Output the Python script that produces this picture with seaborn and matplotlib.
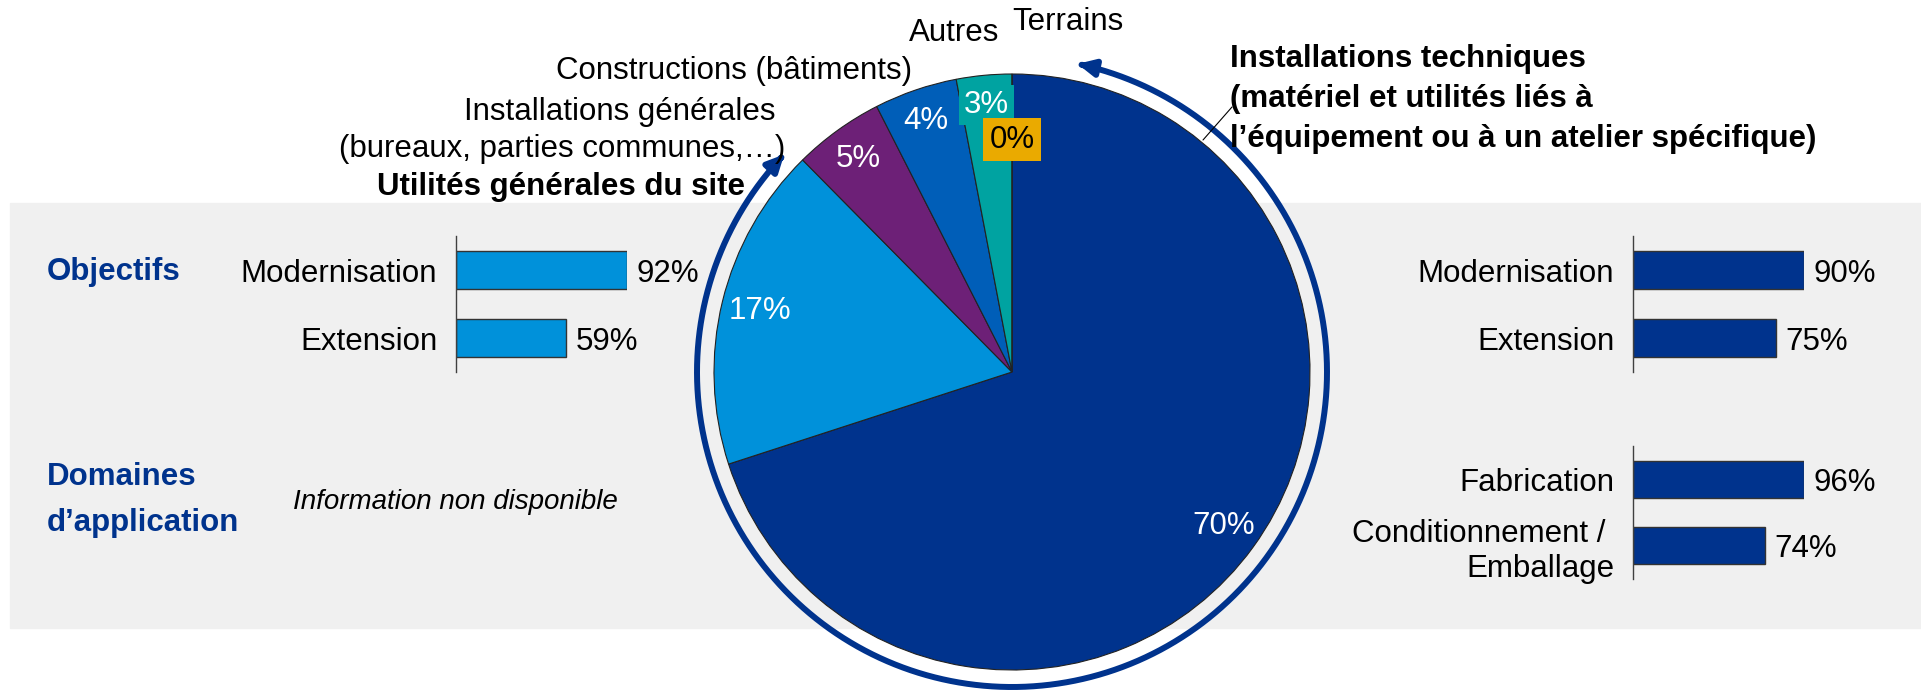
import matplotlib.pyplot as plt
import numpy as np
import seaborn as sns
from matplotlib.lines import Line2D
from matplotlib.patches import FancyArrowPatch, Rectangle
from matplotlib.path import Path

# pie: share of spend by asset type (clockwise from 12 o'clock)
pie_labels = ['Installations techniques', 'Utilités générales du site', 'Installations générales',
              'Constructions (bâtiments)', 'Autres', 'Terrains']
pie_values = [70.0, 17.6, 4.9, 4.5, 3.0, 0.0]
pie_pct_text = ['70%', '17%', '5%', '4%', '3%', '0%']

# bars
obj_left_cats = ['Modernisation', 'Extension']
obj_left_vals = [92, 59]
obj_right_cats = ['Modernisation', 'Extension']
obj_right_vals = [90, 75]
dom_right_cats = ['Fabrication', 'Conditionnement / \nEmballage']
dom_right_vals = [96, 74]

DARK = '#00338D'
MID = '#005EB8'
LIGHT = '#0091DA'
PURPLE = '#6D2077'
TEAL = '#00A3A1'
ORANGE = '#EAAA00'
pie_colors = [DARK, LIGHT, PURPLE, MID, TEAL, ORANGE]

sns.set_style('white')
plt.rcParams['font.family'] = ['Liberation Sans', 'DejaVu Sans']
plt.rcParams['text.color'] = 'black'
plt.rcParams['ytick.color'] = 'black'
plt.rcParams['ytick.labelcolor'] = 'black'
FS = 22.5

W, H = 1921, 690
fig = plt.figure(figsize=(W / 100, H / 100), dpi=100)


def fx(x):
    return x / W


def fy(y):
    return 1 - y / H


def axes_px(x0, y0, x1, y1):
    a = fig.add_axes([x0 / W, 1 - y1 / H, (x1 - x0) / W, (y1 - y0) / H])
    a.patch.set_alpha(0)
    return a


# grey band behind everything
fig.add_artist(Rectangle((fx(10), fy(628)), (W - 10) / W, (628 - 203) / H,
                         transform=fig.transFigure, color='#F0F0F0', zorder=-5))

# ---- pie ----
cx, cy, r = 1012, 372, 298
half = 1.2 * r
ax = axes_px(cx - half, cy - half, cx + half, cy + half)
wedges, _ = ax.pie(pie_values, colors=pie_colors, startangle=90, counterclock=False,
                   wedgeprops={'edgecolor': '#222222', 'linewidth': 0.8})
ax.set_xlim(-1.2, 1.2)
ax.set_ylim(-1.2, 1.2)
ax.axis('off')

dists = [0.877, 0.87, 0.88, 0.89, 0.90, 0.78]
for w, txt, d, col in zip(wedges, pie_pct_text, dists, pie_colors):
    mid = np.deg2rad((w.theta1 + w.theta2) / 2)
    kw = dict(ha='center', va='center', fontsize=FS, color='white')
    if col == TEAL:
        kw['bbox'] = dict(boxstyle='square,pad=0.16', fc=TEAL, ec='none')
    if col == ORANGE:
        kw['color'] = 'black'
        kw['bbox'] = dict(boxstyle='square,pad=0.2', fc=ORANGE, ec='none')
    ax.text(d * np.cos(mid), d * np.sin(mid), txt, **kw)

# double-headed arc around the pie
R = 315 / r
th = np.deg2rad(np.linspace(136.3, 438, 400))
arc = FancyArrowPatch(path=Path(np.column_stack([R * np.cos(th), R * np.sin(th)])),
                      arrowstyle='<|-|>,head_length=0.45,head_width=0.22', mutation_scale=22,
                      lw=4.3, color=DARK, clip_on=False)
ax.add_patch(arc)

# labels around pie
fig.text(fx(1012), fy(22), 'Terrains', fontsize=FS, ha='left', va='center')
fig.text(fx(909), fy(33), 'Autres', fontsize=FS, ha='left', va='center')
fig.text(fx(912), fy(71), 'Constructions (bâtiments)', fontsize=FS, ha='right', va='center')
fig.text(fx(775), fy(112), 'Installations générales', fontsize=FS, ha='right', va='center')
fig.text(fx(785), fy(149), '(bureaux, parties communes,…)', fontsize=FS, ha='right', va='center')
fig.text(fx(745), fy(187), 'Utilités générales du site', fontsize=FS, ha='right', va='center',
         fontweight='bold')
for yy, line in zip([59, 99, 139], ['Installations techniques', '(matériel et utilités liés à',
                                    'l’équipement ou à un atelier spécifique)']):
    fig.text(fx(1230), fy(yy), line, fontsize=FS, ha='left', va='center', fontweight='bold')
fig.add_artist(Line2D([fx(1203), fx(1232)], [fy(140), fy(107)], transform=fig.transFigure,
                      color='black', lw=0.8))

# section headings
fig.text(fx(47), fy(272), 'Objectifs', fontsize=FS, ha='left', va='center', fontweight='bold',
         color=DARK)
fig.text(fx(47), fy(477), 'Domaines', fontsize=FS, ha='left', va='center', fontweight='bold',
         color=DARK)
fig.text(fx(47), fy(523), 'd’application', fontsize=FS, ha='left', va='center', fontweight='bold',
         color=DARK)
fig.text(fx(293), fy(502), 'Information non disponible', fontsize=20, ha='left', va='center',
         style='italic')


# ---- bars ----
def bar_panel(box, cats, vals, color):
    b = axes_px(*box)
    sns.barplot(x=vals, y=cats, ax=b, color=color, saturation=1, width=0.56, orient='h',
                edgecolor='#333333', linewidth=1)
    b.set_xlim(0, max(vals))
    b.set_ylim(1.5, -0.5)
    for s in ['top', 'right', 'bottom']:
        b.spines[s].set_visible(False)
    b.spines['left'].set_color('#404040')
    b.spines['left'].set_linewidth(1)
    b.set_xticks([])
    b.set_xlabel('')
    b.set_ylabel('')
    b.tick_params(axis='y', length=0, pad=13.5, labelsize=FS, labelcolor='black')
    labels = b.bar_label(b.containers[0], fmt='%d%%', padding=7, fontsize=FS, color='black')
    for t in labels:
        t.set_va('center_baseline')
    return b


bar_panel((456, 236, 627, 372), obj_left_cats, obj_left_vals, LIGHT)
bar_panel((1633, 236, 1804, 372), obj_right_cats, obj_right_vals, DARK)
bar_panel((1633, 446, 1804, 579), dom_right_cats, dom_right_vals, DARK)

fig.savefig('out.png', dpi=100)
